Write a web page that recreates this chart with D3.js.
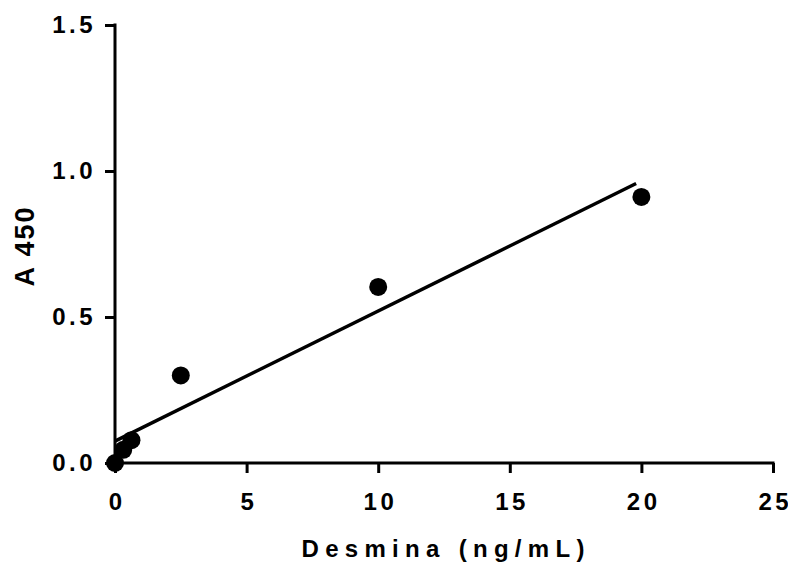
<!DOCTYPE html>
<html>
<head>
<meta charset="utf-8">
<script src="https://cdn.jsdelivr.net/npm/d3@7"></script>
<style>
  html, body { margin: 0; padding: 0; background: #fff; }
  svg text { font-family: "Liberation Sans", Arial, sans-serif; font-weight: bold; fill: #000; }
</style>
</head>
<body>
<svg id="chart" width="788" height="566"></svg>
<script>
// Standard curve: desmin concentration vs absorbance at 450 nm
const concentration = [0, 0.3125, 0.625, 2.5, 10, 20];
const absorbance    = [0, 0.045, 0.078, 0.300, 0.603, 0.911];

// Linear fit endpoints
const fitX = [0, 19.8];
const fitY = [0.075, 0.957];

const xTicks = [0, 5, 10, 15, 20, 25];
const yTicks = [0.0, 0.5, 1.0, 1.5];

const svg = d3.select("#chart");
const margin = { left: 115, right: 15, top: 25, bottom: 103 };
const W = 788, H = 566;

const x = d3.scaleLinear().domain([0, 25]).range([margin.left, W - margin.right]);
const y = d3.scaleLinear().domain([0, 1.5]).range([H - margin.bottom, margin.top]);

const tickFont = 24, tickSpacing = 3.5;

// X axis
const xAxis = svg.append("g")
  .attr("transform", `translate(0,${y(0)})`)
  .call(d3.axisBottom(x).tickValues(xTicks).tickFormat(d3.format("d")).tickSize(10).tickSizeOuter(0).tickPadding(20));
xAxis.select(".domain").attr("stroke", "#000").attr("stroke-width", 3)
  .attr("d", `M${x(0) - 1.5},0H${x(25) + 1.5}`);
xAxis.selectAll(".tick line").attr("stroke", "#000").attr("stroke-width", 3);
xAxis.selectAll(".tick text").attr("font-size", tickFont).attr("letter-spacing", tickSpacing)
  .attr("dx", tickSpacing / 2);

// Y axis
const yAxis = svg.append("g")
  .attr("transform", `translate(${x(0)},0)`)
  .call(d3.axisLeft(y).tickValues(yTicks).tickFormat(d3.format(".1f")).tickSize(10).tickSizeOuter(0).tickPadding(9));
yAxis.select(".domain").attr("stroke", "#000").attr("stroke-width", 3)
  .attr("d", `M0,${y(0) + 1.5}V${y(1.5) - 1.5}`);
yAxis.selectAll(".tick line").attr("stroke", "#000").attr("stroke-width", 3);
yAxis.selectAll(".tick text").attr("font-size", tickFont).attr("letter-spacing", tickSpacing);

// Fit line
const line = d3.line().x(d => x(d[0])).y(d => y(d[1]));
svg.append("path")
  .datum(fitX.map((v, i) => [v, fitY[i]]))
  .attr("d", line)
  .attr("fill", "none")
  .attr("stroke", "#000")
  .attr("stroke-width", 3.5);

// Data points
svg.append("g").selectAll("circle")
  .data(concentration.map((v, i) => [v, absorbance[i]]))
  .join("circle")
  .attr("cx", d => x(d[0]))
  .attr("cy", d => y(d[1]))
  .attr("r", 9)
  .attr("fill", "#000");

// Axis titles
const titleSpacing = 6.3;
svg.append("text")
  .attr("x", 443 + titleSpacing / 2)
  .attr("y", 557)
  .attr("text-anchor", "middle")
  .attr("font-size", 24)
  .attr("letter-spacing", titleSpacing)
  .text("Desmina (ng/mL)");

const yTitleSpacing = 2;
svg.append("text")
  .attr("transform", `translate(34,${245 + yTitleSpacing / 2}) rotate(-90)`)
  .attr("text-anchor", "middle")
  .attr("font-size", 27)
  .attr("letter-spacing", yTitleSpacing)
  .text("A 450");
</script>
</body>
</html>
